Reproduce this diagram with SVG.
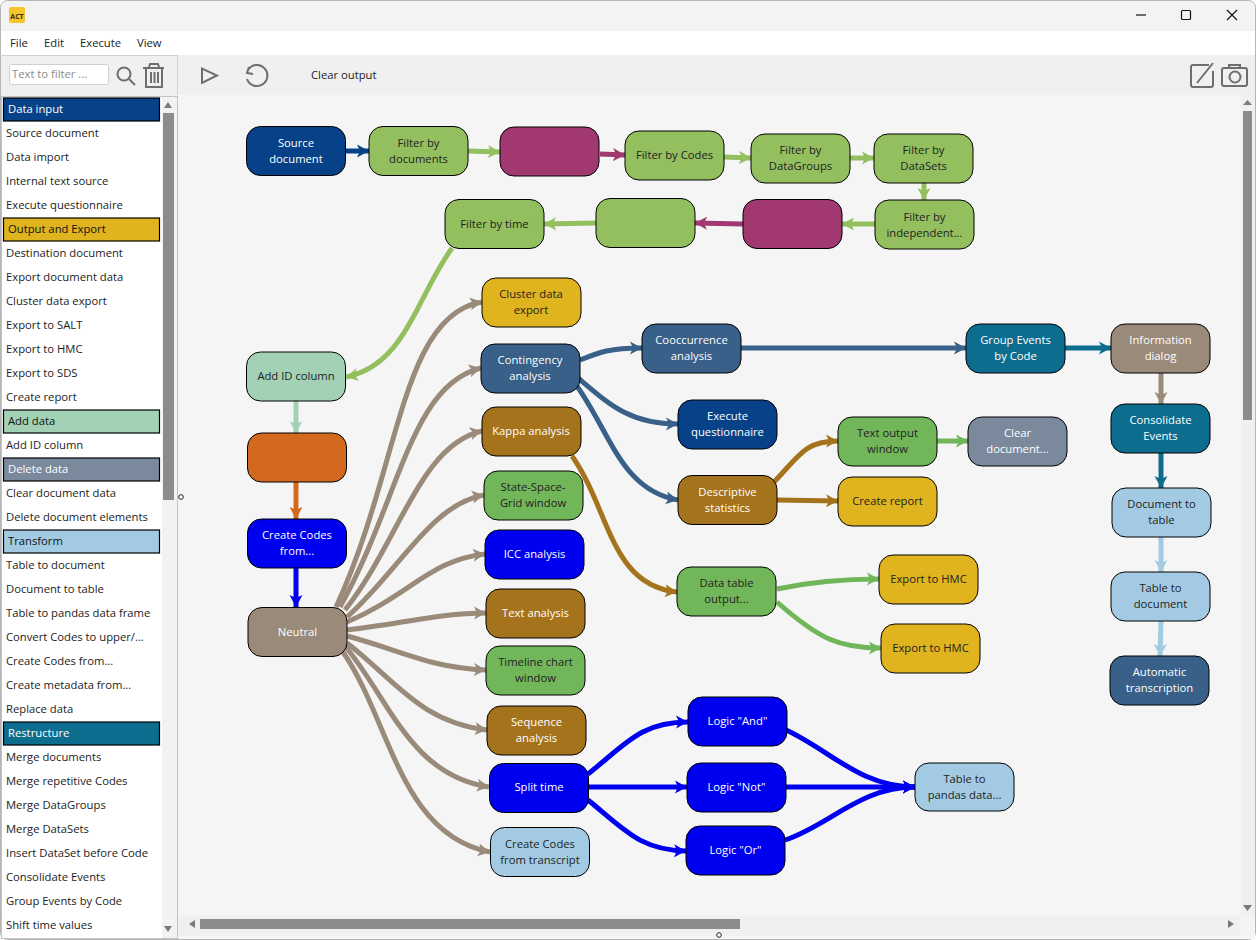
<svg xmlns="http://www.w3.org/2000/svg" width="1256" height="940" viewBox="0 0 1256 940">
<style>
text{font-family:"Open Sans","Noto Sans","Liberation Sans",sans-serif;font-size:11.25px;transform:translateY(-.7px)}
.n rect{stroke:#000;stroke-width:1}
.n text{text-anchor:middle}
.d text{fill:#fff}
.l text,.li{fill:#222}
.e path{fill:none;stroke-width:5}
.hd{stroke:#000;stroke-width:1.2}
.ic{fill:none;stroke:#6e6e6e;stroke-width:2}
.sb{fill:#8c8c8c}
.ar{fill:#7a7a7a}
</style>
<defs>
<marker id="m-navy" markerUnits="userSpaceOnUse" markerWidth="14" markerHeight="14" refX="12" refY="7" orient="auto" viewBox="0 0 14 14"><path d="M0,0.5L12,7L0,13.5L3,7z" fill="#074289"/></marker>
<marker id="m-fg" markerUnits="userSpaceOnUse" markerWidth="14" markerHeight="14" refX="12" refY="7" orient="auto" viewBox="0 0 14 14"><path d="M0,0.5L12,7L0,13.5L3,7z" fill="#93bf5f"/></marker>
<marker id="m-mag" markerUnits="userSpaceOnUse" markerWidth="14" markerHeight="14" refX="12" refY="7" orient="auto" viewBox="0 0 14 14"><path d="M0,0.5L12,7L0,13.5L3,7z" fill="#a1386f"/></marker>
<marker id="m-mint" markerUnits="userSpaceOnUse" markerWidth="14" markerHeight="14" refX="12" refY="7" orient="auto" viewBox="0 0 14 14"><path d="M0,0.5L12,7L0,13.5L3,7z" fill="#a3d1b6"/></marker>
<marker id="m-or" markerUnits="userSpaceOnUse" markerWidth="14" markerHeight="14" refX="12" refY="7" orient="auto" viewBox="0 0 14 14"><path d="M0,0.5L12,7L0,13.5L3,7z" fill="#d2691e"/></marker>
<marker id="m-blue" markerUnits="userSpaceOnUse" markerWidth="14" markerHeight="14" refX="12" refY="7" orient="auto" viewBox="0 0 14 14"><path d="M0,0.5L12,7L0,13.5L3,7z" fill="#0000f0"/></marker>
<marker id="m-neu" markerUnits="userSpaceOnUse" markerWidth="14" markerHeight="14" refX="12" refY="7" orient="auto" viewBox="0 0 14 14"><path d="M0,0.5L12,7L0,13.5L3,7z" fill="#9a8a79"/></marker>
<marker id="m-st" markerUnits="userSpaceOnUse" markerWidth="14" markerHeight="14" refX="12" refY="7" orient="auto" viewBox="0 0 14 14"><path d="M0,0.5L12,7L0,13.5L3,7z" fill="#386088"/></marker>
<marker id="m-te" markerUnits="userSpaceOnUse" markerWidth="14" markerHeight="14" refX="12" refY="7" orient="auto" viewBox="0 0 14 14"><path d="M0,0.5L12,7L0,13.5L3,7z" fill="#0c6d8e"/></marker>
<marker id="m-lb" markerUnits="userSpaceOnUse" markerWidth="14" markerHeight="14" refX="12" refY="7" orient="auto" viewBox="0 0 14 14"><path d="M0,0.5L12,7L0,13.5L3,7z" fill="#a2cbe3"/></marker>
<marker id="m-mu" markerUnits="userSpaceOnUse" markerWidth="14" markerHeight="14" refX="12" refY="7" orient="auto" viewBox="0 0 14 14"><path d="M0,0.5L12,7L0,13.5L3,7z" fill="#a5731b"/></marker>
<marker id="m-gr" markerUnits="userSpaceOnUse" markerWidth="14" markerHeight="14" refX="12" refY="7" orient="auto" viewBox="0 0 14 14"><path d="M0,0.5L12,7L0,13.5L3,7z" fill="#72b65a"/></marker>
</defs>

<rect width="1256" height="940" fill="#fff"/>
<g id="window">
<rect x="0.5" y="0.5" width="1255" height="939" rx="7" fill="#f3f3f3" stroke="#b5b5b5"/>
<rect x="1" y="31" width="1254" height="24" fill="#fff"/>
<rect x="1" y="55" width="1254" height="40" fill="#f0f0f0"/>
<rect x="178" y="95" width="1077" height="844" fill="#f5f5f5"/>
<rect x="9" y="7" width="16" height="16" rx="2" fill="#f5c52c"/>
<text x="17" y="20" text-anchor="middle" style="font-size:7px;font-weight:700" fill="#3a2a10">ACT</text>
<path d="M1136,15h10" stroke="#111" stroke-width="1.2"/>
<rect x="1181.5" y="10.500" width="9" height="9" fill="none" stroke="#111" stroke-width="1.200" rx="1"/>
<path d="M1227,10L1237,20M1237,10L1227,20" stroke="#111" stroke-width="1.200"/>
<text x="10" y="48" class="li">File</text><text x="44" y="48" class="li">Edit</text><text x="80" y="48" class="li">Execute</text><text x="137" y="48" class="li">View</text>
<path d="M0,55.500H178M177.500,55V95" stroke="#d0d0d0" fill="none"/>
<rect x="9.500" y="64.500" width="99" height="20" rx="2" fill="#fff" stroke="#cfcfcf"/>
<text x="12" y="79" fill="#8a8a8a">Text to filter ...</text>
<g class="ic"><circle cx="124" cy="74" r="6.500"/><path d="M129,79L135,85"/>
<path d="M146,69V87H162V69M143,68H164M149,67L150,64H158L159,67M151,72V83M154.500,72V83M158,72V83"/>
<path d="M202,68.500V83L217,75.500z"/>
<path d="M249,67L247,73L253,74"/><path d="M248,70A10.500,10.500 0 1 1 247,79"/>
<path d="M1209,65H1193Q1191,65 1191,67V85Q1191,87 1193,87H1211Q1213,87 1213,85V71"/><path d="M1197,83L1213,63"/>
<rect x="1222" y="68" width="25" height="18" rx="2"/><path d="M1229,68V65H1240V68"/><circle cx="1235" cy="77" r="5.500"/></g>
<text x="311" y="80" class="li">Clear output</text>
</g>

<g id="palette">
<rect x="1.500" y="96.500" width="176" height="842" fill="#fff" stroke="#c4c4c4"/>
<rect x="162" y="97" width="15" height="841" fill="#f2f2f2"/>
<rect x="163" y="113" width="11" height="387" class="sb"/>
<path d="M164,108L168,102L172,108z" class="ar"/><path d="M164,926L168,932L172,926z" class="ar"/>
<rect x="3.500" y="98" width="156" height="23" class="hd" fill="#074289"/><text x="8" y="114" fill="#fff">Data input</text>
<text x="6" y="138" class="li">Source document</text>
<text x="6" y="162" class="li">Data import</text>
<text x="6" y="186" class="li">Internal text source</text>
<text x="6" y="210" class="li">Execute questionnaire</text>
<rect x="3.500" y="218" width="156" height="23" class="hd" fill="#dfb41f"/><text x="8" y="234" fill="#111">Output and Export</text>
<text x="6" y="258" class="li">Destination document</text>
<text x="6" y="282" class="li">Export document data</text>
<text x="6" y="306" class="li">Cluster data export</text>
<text x="6" y="330" class="li">Export to SALT</text>
<text x="6" y="354" class="li">Export to HMC</text>
<text x="6" y="378" class="li">Export to SDS</text>
<text x="6" y="402" class="li">Create report</text>
<rect x="3.500" y="410" width="156" height="23" class="hd" fill="#a3d1b6"/><text x="8" y="426" fill="#111">Add data</text>
<text x="6" y="450" class="li">Add ID column</text>
<rect x="3.500" y="458" width="156" height="23" class="hd" fill="#7a8a9c"/><text x="8" y="474" fill="#fff">Delete data</text>
<text x="6" y="498" class="li">Clear document data</text>
<text x="6" y="522" class="li">Delete document elements</text>
<rect x="3.500" y="530" width="156" height="23" class="hd" fill="#a2cbe3"/><text x="8" y="546" fill="#111">Transform</text>
<text x="6" y="570" class="li">Table to document</text>
<text x="6" y="594" class="li">Document to table</text>
<text x="6" y="618" class="li">Table to pandas data frame</text>
<text x="6" y="642" class="li">Convert Codes to upper/...</text>
<text x="6" y="666" class="li">Create Codes from...</text>
<text x="6" y="690" class="li">Create metadata from...</text>
<text x="6" y="714" class="li">Replace data</text>
<rect x="3.500" y="722" width="156" height="23" class="hd" fill="#0c6d8e"/><text x="8" y="738" fill="#fff">Restructure</text>
<text x="6" y="762" class="li">Merge documents</text>
<text x="6" y="786" class="li">Merge repetitive Codes</text>
<text x="6" y="810" class="li">Merge DataGroups</text>
<text x="6" y="834" class="li">Merge DataSets</text>
<text x="6" y="858" class="li">Insert DataSet before Code</text>
<text x="6" y="882" class="li">Consolidate Events</text>
<text x="6" y="906" class="li">Group Events by Code</text>
<text x="6" y="930" class="li">Shift time values</text>
</g>

<g id="scrollbars">
<rect x="1241" y="95" width="14" height="823" fill="#f0f0f0"/>
<rect x="1243" y="111" width="9" height="309" class="sb"/>
<path d="M1243,105L1247.500,100L1252,105z" class="ar"/><path d="M1243,905L1247.500,911L1252,905z" class="ar"/>
<rect x="178" y="916" width="1077" height="20" fill="#f0f0f0"/>
<rect x="1240" y="917" width="15" height="19" fill="#f4f4f4"/>
<rect x="200" y="919" width="540" height="10" class="sb"/>
<path d="M195,920V928L189,924z" class="ar"/><path d="M1228,920V928L1234,924z" class="ar"/>
<circle cx="181" cy="497" r="2.300" fill="#fff" stroke="#222"/>
<circle cx="719" cy="935" r="2.300" fill="#fff" stroke="#222"/>
</g>

<g id="connectors" class="e">
<path stroke="#074289" marker-end="url(#m-navy)" d="M346,151L369,151"/>
<path stroke="#93bf5f" marker-end="url(#m-fg)" d="M468,151L500,152"/>
<path stroke="#a1386f" marker-end="url(#m-mag)" d="M600,154L625,155"/>
<path stroke="#93bf5f" marker-end="url(#m-fg)" d="M724,157L751,158"/>
<path stroke="#93bf5f" marker-end="url(#m-fg)" d="M850,158L874,158"/>
<path stroke="#93bf5f" marker-end="url(#m-fg)" d="M924,183L924,200"/>
<path stroke="#93bf5f" marker-end="url(#m-fg)" d="M875,224L842,224"/>
<path stroke="#a1386f" marker-end="url(#m-mag)" d="M743,224L695,223"/>
<path stroke="#93bf5f" marker-end="url(#m-fg)" d="M596,223L544,224"/>
<path stroke="#93bf5f" marker-end="url(#m-fg)" d="M452,248C415,300 405,365 346,377"/>
<path stroke="#a3d1b6" marker-end="url(#m-mint)" d="M296,401L296,433"/>
<path stroke="#d2691e" marker-end="url(#m-or)" d="M296,482L296,519"/>
<path stroke="#0000f0" marker-end="url(#m-blue)" d="M296,568L296,607"/>
<path stroke="#9a8a79" marker-end="url(#m-neu)" d="M336,607C400,470 400,315 482,302"/>
<path stroke="#9a8a79" marker-end="url(#m-neu)" d="M340,607C400,500 410,385 481,368"/>
<path stroke="#9a8a79" marker-end="url(#m-neu)" d="M345,610C400,540 420,445 482,431"/>
<path stroke="#9a8a79" marker-end="url(#m-neu)" d="M347,617C400,570 430,505 484,495"/>
<path stroke="#9a8a79" marker-end="url(#m-neu)" d="M347,622C410,595 430,560 485,554"/>
<path stroke="#9a8a79" marker-end="url(#m-neu)" d="M347,630C400,624 440,613 486,613"/>
<path stroke="#9a8a79" marker-end="url(#m-neu)" d="M347,636C400,650 430,668 486,670"/>
<path stroke="#9a8a79" marker-end="url(#m-neu)" d="M347,643C395,680 420,722 487,730"/>
<path stroke="#9a8a79" marker-end="url(#m-neu)" d="M345,646C390,700 410,775 489,787"/>
<path stroke="#9a8a79" marker-end="url(#m-neu)" d="M343,652C390,720 400,835 490,852"/>
<path stroke="#386088" marker-end="url(#m-st)" d="M580,360C600,352 610,348 642,348"/>
<path stroke="#386088" marker-end="url(#m-st)" d="M578,378C610,405 630,424 678,424"/>
<path stroke="#386088" marker-end="url(#m-st)" d="M574,382C610,430 620,490 678,500"/>
<path stroke="#386088" marker-end="url(#m-st)" d="M741,348L966,348"/>
<path stroke="#0c6d8e" marker-end="url(#m-te)" d="M1065,348L1111,348"/>
<path stroke="#9a8a79" marker-end="url(#m-neu)" d="M1161,373L1161,404"/>
<path stroke="#0c6d8e" marker-end="url(#m-te)" d="M1161,453L1161,488"/>
<path stroke="#a2cbe3" marker-end="url(#m-lb)" d="M1161,537L1161,572"/>
<path stroke="#a2cbe3" marker-end="url(#m-lb)" d="M1161,621L1160,656"/>
<path stroke="#a5731b" marker-end="url(#m-mu)" d="M572,456C610,510 610,585 677,592"/>
<path stroke="#a5731b" marker-end="url(#m-mu)" d="M774,482C800,455 805,441 838,441"/>
<path stroke="#a5731b" marker-end="url(#m-mu)" d="M777,500L838,501"/>
<path stroke="#72b65a" marker-end="url(#m-gr)" d="M937,441L968,441"/>
<path stroke="#72b65a" marker-end="url(#m-gr)" d="M777,589C810,582 840,579 879,579"/>
<path stroke="#72b65a" marker-end="url(#m-gr)" d="M777,602C820,640 840,648 881,648"/>
<path stroke="#0000f0" marker-end="url(#m-blue)" d="M588,774C625,745 640,722 688,722"/>
<path stroke="#0000f0" marker-end="url(#m-blue)" d="M588,787L687,787"/>
<path stroke="#0000f0" marker-end="url(#m-blue)" d="M588,800C625,830 640,850 686,851"/>
<path stroke="#0000f0" marker-end="url(#m-blue)" d="M786,730C830,750 860,787 915,787"/>
<path stroke="#0000f0" marker-end="url(#m-blue)" d="M786,787L915,787"/>
<path stroke="#0000f0" marker-end="url(#m-blue)" d="M785,840C830,825 860,787 915,787"/>
</g>

<g id="nodes">
<g id="n1" class="n d"><rect x="246.500" y="126.500" width="99" height="49" rx="14" fill="#074289"/><text x="296" y="148">Source</text><text x="296" y="164">document</text></g>
<g id="n2" class="n l"><rect x="369" y="126.500" width="99" height="49" rx="14" fill="#93bf5f"/><text x="418.500" y="148">Filter by</text><text x="418.500" y="164">documents</text></g>
<g id="n3" class="n"><rect x="500" y="127" width="99" height="49" rx="14" fill="#a1386f"/></g>
<g id="n4" class="n l"><rect x="625" y="131" width="99" height="49" rx="14" fill="#93bf5f"/><text x="674.500" y="160">Filter by Codes</text></g>
<g id="n5" class="n l"><rect x="751" y="134" width="99" height="49" rx="14" fill="#93bf5f"/><text x="800.500" y="155">Filter by</text><text x="800.500" y="171">DataGroups</text></g>
<g id="n6" class="n l"><rect x="874" y="134" width="99" height="49" rx="14" fill="#93bf5f"/><text x="923.500" y="155">Filter by</text><text x="923.500" y="171">DataSets</text></g>
<g id="n7" class="n l"><rect x="875" y="200" width="99" height="49" rx="14" fill="#93bf5f"/><text x="924.500" y="222">Filter by</text><text x="924.500" y="238">independent...</text></g>
<g id="n8" class="n"><rect x="743" y="199.500" width="99" height="49" rx="14" fill="#a1386f"/></g>
<g id="n9" class="n"><rect x="596" y="198.500" width="99" height="49" rx="14" fill="#93bf5f"/></g>
<g id="n10" class="n l"><rect x="445" y="199.500" width="99" height="49" rx="14" fill="#93bf5f"/><text x="494.500" y="229">Filter by time</text></g>
<g id="n11" class="n l"><rect x="246.500" y="352" width="99" height="49" rx="14" fill="#a3d1b6"/><text x="296" y="381">Add ID column</text></g>
<g id="n12" class="n"><rect x="247.500" y="433" width="99" height="49" rx="14" fill="#d2691e"/></g>
<g id="n13" class="n d"><rect x="247.500" y="519" width="99" height="49" rx="14" fill="#0000f0"/><text x="297" y="540">Create Codes</text><text x="297" y="556">from...</text></g>
<g id="n14" class="n d"><rect x="248" y="607.500" width="99" height="49" rx="14" fill="#9a8a79"/><text x="297.500" y="637">Neutral</text></g>
<g id="n15" class="n l"><rect x="482" y="278" width="99" height="49" rx="14" fill="#dfb41f"/><text x="531" y="299">Cluster data</text><text x="531" y="315">export</text></g>
<g id="n16" class="n d"><rect x="481" y="344" width="99" height="49" rx="14" fill="#386088"/><text x="530" y="365">Contingency</text><text x="530" y="381">analysis</text></g>
<g id="n17" class="n d"><rect x="482" y="407" width="99" height="49" rx="14" fill="#a5731b"/><text x="531" y="436">Kappa analysis</text></g>
<g id="n18" class="n l"><rect x="484" y="471" width="99" height="49" rx="14" fill="#72b65a"/><text x="533" y="492">State-Space-</text><text x="533" y="508">Grid window</text></g>
<g id="n19" class="n d"><rect x="485" y="530" width="99" height="49" rx="14" fill="#0000f0"/><text x="534.500" y="559">ICC analysis</text></g>
<g id="n20" class="n d"><rect x="486" y="589" width="99" height="49" rx="14" fill="#a5731b"/><text x="535.500" y="618">Text analysis</text></g>
<g id="n21" class="n l"><rect x="486" y="646" width="99" height="49" rx="14" fill="#72b65a"/><text x="535.500" y="667">Timeline chart</text><text x="535.500" y="683">window</text></g>
<g id="n22" class="n d"><rect x="487" y="706" width="99" height="49" rx="14" fill="#a5731b"/><text x="536.500" y="727">Sequence</text><text x="536.500" y="743">analysis</text></g>
<g id="n23" class="n d"><rect x="489.500" y="763.500" width="99" height="49" rx="14" fill="#0000f0"/><text x="539" y="792">Split time</text></g>
<g id="n24" class="n l"><rect x="490.500" y="827.500" width="99" height="49" rx="14" fill="#a2cbe3"/><text x="540" y="849">Create Codes</text><text x="540" y="865">from transcript</text></g>
<g id="n25" class="n d"><rect x="642" y="324" width="99" height="49" rx="14" fill="#386088"/><text x="691.500" y="345">Cooccurrence</text><text x="691.500" y="361">analysis</text></g>
<g id="n26" class="n d"><rect x="678" y="400" width="99" height="49" rx="14" fill="#074289"/><text x="727.500" y="421">Execute</text><text x="727.500" y="437">questionnaire</text></g>
<g id="n27" class="n d"><rect x="678" y="475.500" width="99" height="49" rx="14" fill="#a5731b"/><text x="727.500" y="497">Descriptive</text><text x="727.500" y="513">statistics</text></g>
<g id="n28" class="n l"><rect x="838" y="417" width="99" height="49" rx="14" fill="#72b65a"/><text x="887.500" y="438">Text output</text><text x="887.500" y="454">window</text></g>
<g id="n29" class="n d"><rect x="968" y="417" width="99" height="49" rx="14" fill="#7a8a9c"/><text x="1017.500" y="438">Clear</text><text x="1017.500" y="454">document...</text></g>
<g id="n30" class="n l"><rect x="838" y="477" width="99" height="49" rx="14" fill="#dfb41f"/><text x="887.500" y="506">Create report</text></g>
<g id="n31" class="n l"><rect x="677" y="567" width="99" height="49" rx="14" fill="#72b65a"/><text x="726.500" y="588">Data table</text><text x="726.500" y="604">output...</text></g>
<g id="n32" class="n l"><rect x="879" y="555" width="99" height="49" rx="14" fill="#dfb41f"/><text x="928.500" y="584">Export to HMC</text></g>
<g id="n33" class="n l"><rect x="881" y="624" width="99" height="49" rx="14" fill="#dfb41f"/><text x="930.500" y="653">Export to HMC</text></g>
<g id="n34" class="n d"><rect x="688" y="697" width="99" height="49" rx="14" fill="#0000f0"/><text x="737.500" y="726">Logic "And"</text></g>
<g id="n35" class="n d"><rect x="687" y="763" width="99" height="49" rx="14" fill="#0000f0"/><text x="736.500" y="792">Logic "Not"</text></g>
<g id="n36" class="n d"><rect x="686" y="826" width="99" height="49" rx="14" fill="#0000f0"/><text x="735.500" y="855">Logic "Or"</text></g>
<g id="n37" class="n l"><rect x="915" y="763" width="99" height="48" rx="14" fill="#a2cbe3"/><text x="964.500" y="784">Table to</text><text x="964.500" y="800">pandas data...</text></g>
<g id="n38" class="n d"><rect x="966" y="324" width="99" height="49" rx="14" fill="#0c6d8e"/><text x="1015.500" y="345">Group Events</text><text x="1015.500" y="361">by Code</text></g>
<g id="n39" class="n d"><rect x="1111" y="324" width="99" height="49" rx="14" fill="#9a8a79"/><text x="1160.500" y="345">Information</text><text x="1160.500" y="361">dialog</text></g>
<g id="n40" class="n d"><rect x="1111" y="404" width="99" height="49" rx="14" fill="#0c6d8e"/><text x="1160.500" y="425">Consolidate</text><text x="1160.500" y="441">Events</text></g>
<g id="n41" class="n l"><rect x="1112" y="488" width="99" height="49" rx="14" fill="#a2cbe3"/><text x="1161.500" y="509">Document to</text><text x="1161.500" y="525">table</text></g>
<g id="n42" class="n l"><rect x="1111" y="572" width="99" height="49" rx="14" fill="#a2cbe3"/><text x="1160.500" y="593">Table to</text><text x="1160.500" y="609">document</text></g>
<g id="n43" class="n d"><rect x="1110" y="656" width="99" height="49" rx="14" fill="#386088"/><text x="1159.500" y="677">Automatic</text><text x="1159.500" y="693">transcription</text></g>
</g>
</svg>
